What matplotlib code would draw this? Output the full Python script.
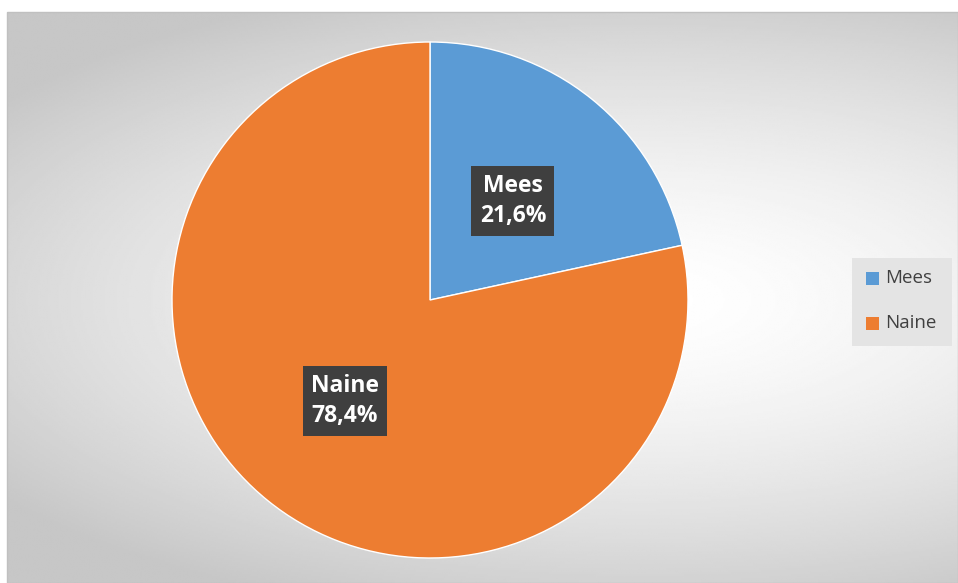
import numpy as np
import matplotlib.pyplot as plt
from matplotlib.patches import Rectangle

labels = ["Mees", "Naine"]
values = [21.6, 78.4]
label_text = ["Mees\n21,6%", "Naine\n78,4%"]
colors = ["#5B9BD5", "#ED7D31"]

plt.rcParams['font.family'] = ['Open Sans', 'DejaVu Sans']

W, H = 958, 583
fig = plt.figure(figsize=(W / 100, H / 100), dpi=100)
ax = fig.add_axes([0, 0, 1, 1])

# radial gradient background of the chart area
x0, x1, y0, y1 = 7, W, 0, H - 12
px, py = np.meshgrid(np.linspace(x0, x1, 480), np.linspace(y0, y1, 290))
r = np.sqrt(((px - 640) / 800) ** 2 + ((py - 283) / 330) ** 2)
grad = 1.0 - 0.22 * np.clip(r, 0, 1.0) ** 1.5
ax.imshow(grad, cmap='gray', vmin=0, vmax=1, extent=(x0, x1, y0, y1),
          origin='lower', aspect='auto', zorder=0, interpolation='bilinear')
ax.add_patch(Rectangle((x0, y0), x1 - x0, y1 - y0, fill=False,
                       edgecolor='#c0c0c0', lw=1, zorder=1))

wedges, _ = ax.pie(values, colors=colors, startangle=90, counterclock=False,
                   center=(430, 283), radius=258, frame=True,
                   wedgeprops=dict(edgecolor='white', linewidth=1))
for w in wedges:
    w.set_zorder(2)

# data labels
label_pos = [(513, H - 201), (345, H - 401)]
for (lx, ly), t in zip(label_pos, label_text):
    ax.text(lx, ly, t, ha='center', va='center', color='white',
            fontsize=16.5, fontweight='bold', linespacing=1.35, zorder=5,
            bbox=dict(boxstyle='square,pad=0.36', facecolor='#3f3f3f',
                      edgecolor='none'))

# legend
ax.add_patch(Rectangle((852, H - 346), 100, 88, facecolor='#e4e4e4',
                       edgecolor='none', zorder=3))
for i, (lab, c) in enumerate(zip(labels, colors)):
    cy = H - 278 - i * 45
    ax.add_patch(Rectangle((866, cy - 6.5), 13, 13, facecolor=c,
                           edgecolor='none', zorder=4))
    ax.text(885, cy, lab, ha='left', va='center', fontsize=13.5,
            color='#404040', zorder=4)

ax.set_aspect('auto')
ax.set_xlim(0, W)
ax.set_ylim(0, H)
ax.axis('off')

fig.savefig("out.png", dpi=100)
